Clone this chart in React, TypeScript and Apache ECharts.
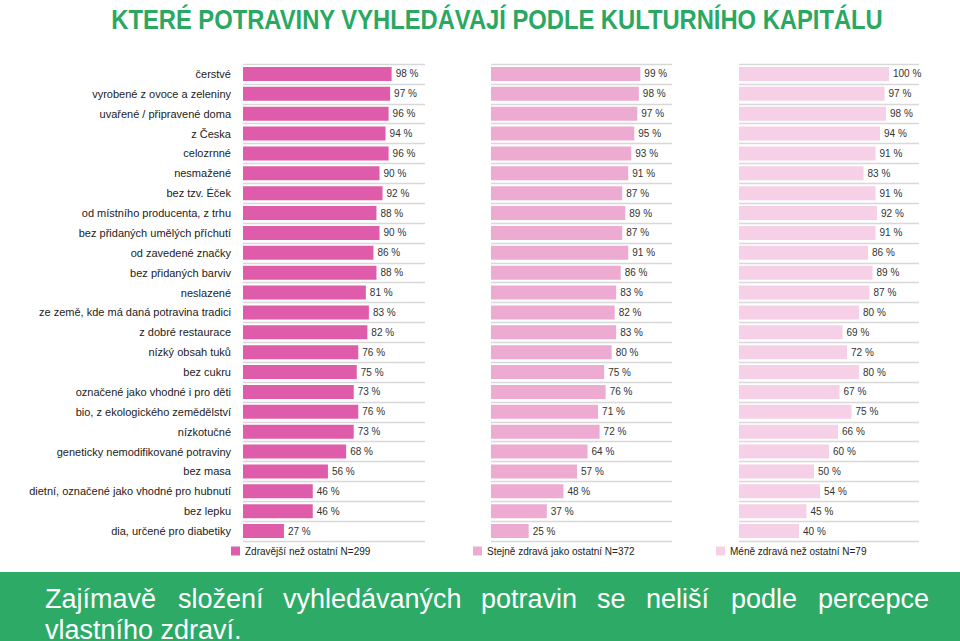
import React, { useEffect, useRef } from "react";
import * as echarts from "echarts";

const categories = [
  "čerstvé",
  "vyrobené z ovoce a zeleniny",
  "uvařené / připravené doma",
  "z Česka",
  "celozrnné",
  "nesmažené",
  "bez tzv. Éček",
  "od místního producenta, z trhu",
  "bez přidaných umělých příchutí",
  "od zavedené značky",
  "bez přidaných barviv",
  "neslazené",
  "ze země, kde má daná potravina tradici",
  "z dobré restaurace",
  "nízký obsah tuků",
  "bez cukru",
  "označené jako vhodné i pro děti",
  "bio, z ekologického zemědělství",
  "nízkotučné",
  "geneticky nemodifikované potraviny",
  "bez masa",
  "dietní, označené jako vhodné pro hubnutí",
  "bez lepku",
  "dia, určené pro diabetiky",
];

const healthierValues = [98, 97, 96, 94, 96, 90, 92, 88, 90, 86, 88, 81, 83, 82, 76, 75, 73, 76, 73, 68, 56, 46, 46, 27];
const sameValues = [99, 98, 97, 95, 93, 91, 87, 89, 87, 91, 86, 83, 82, 83, 80, 75, 76, 71, 72, 64, 57, 48, 37, 25];
const lessValues = [100, 97, 98, 94, 91, 83, 91, 92, 91, 86, 89, 87, 80, 69, 72, 80, 67, 75, 66, 60, 50, 54, 45, 40];

const seriesNames = [
  "Zdravější než ostatní N=299",
  "Stejně zdravá jako ostatní N=372",
  "Méně zdravá než ostatní N=79",
];

const titleText = "KTERÉ POTRAVINY VYHLEDÁVAJÍ PODLE KULTURNÍHO KAPITÁLU";
const bannerLine1 = ["Zajímavě", "složení", "vyhledávaných", "potravin", "se", "neliší", "podle", "percepce"];
const bannerLine2 = "vlastního zdraví.";

const colors = ["#df5caa", "#eeabd2", "#f6d0e6"];
const GREEN = "#2dab66";
const FONT = "'Liberation Sans', Arial, sans-serif";

export default function App() {
  const ref = useRef<HTMLDivElement>(null);

  useEffect(() => {
    if (!ref.current) return;
    const chart = echarts.init(ref.current, null, { renderer: "svg" });

    const grids = [
      { left: 243, width: 182 },
      { left: 491, width: 181 },
      { left: 739, width: 180 },
    ];
    const dataSets = [healthierValues, sameValues, lessValues];
    const legendLeft = [231, 473, 716];
    const wordX = [45, 178, 283, 481, 597, 646, 731, 818];

    const option: any = {
      animation: false,
      backgroundColor: "#ffffff",
      grid: grids.map((g) => ({ left: g.left, width: g.width, top: 64, height: 477 })),
      xAxis: grids.map((_, i) => ({
        type: "value",
        gridIndex: i,
        min: 0,
        max: 120,
        show: false,
      })),
      yAxis: grids.map((_, i) => ({
        type: "category",
        gridIndex: i,
        data: categories,
        inverse: true,
        axisLine: { show: false },
        axisTick: { show: false },
        axisLabel: {
          show: i === 0,
          margin: 12,
          fontSize: 11,
          color: "#222",
          fontFamily: FONT,
        },
        splitLine: { show: true, lineStyle: { color: "#d8d8d8", width: 1.3 } },
      })),
      legend: seriesNames.map((name, i) => ({
        data: [name],
        left: legendLeft[i],
        top: 546,
        itemWidth: 9,
        itemHeight: 9,
        icon: "rect",
        padding: 0,
        textStyle: { fontSize: 10, color: "#222", fontFamily: FONT },
        selectedMode: false,
      })),
      series: dataSets.map((d, i) => ({
        type: "bar",
        name: seriesNames[i],
        xAxisIndex: i,
        yAxisIndex: i,
        data: d,
        barWidth: 14,
        itemStyle: { color: colors[i] },
        label: {
          show: true,
          position: "right",
          distance: 4,
          formatter: "{c} %",
          fontSize: 10,
          color: "#333",
          fontFamily: FONT,
        },
      })),
      graphic: [
        {
          type: "text",
          x: 497,
          y: 19,
          scaleX: 0.88,
          style: {
            text: titleText,
            fill: "#2aa862",
            font: `bold 27px ${FONT}`,
            textAlign: "center",
            textVerticalAlign: "middle",
          },
        },
        {
          type: "rect",
          shape: { x: 0, y: 572, width: 960, height: 69 },
          style: { fill: GREEN },
        },
        ...bannerLine1.map((w, i) => ({
          type: "text",
          x: wordX[i],
          y: 599,
          style: {
            text: w,
            fill: "#ffffff",
            font: `27px ${FONT}`,
            textAlign: "left",
            textVerticalAlign: "middle",
          },
        })),
        {
          type: "text",
          x: 45,
          y: 630,
          style: {
            text: bannerLine2,
            fill: "#ffffff",
            font: `27px ${FONT}`,
            textAlign: "left",
            textVerticalAlign: "middle",
          },
        },
      ],
    };

    chart.setOption(option);
    return () => chart.dispose();
  }, []);

  return (
    <div
      ref={ref}
      style={{ position: "fixed", left: 0, top: 0, width: 960, height: 641, background: "#fff" }}
    />
  );
}
